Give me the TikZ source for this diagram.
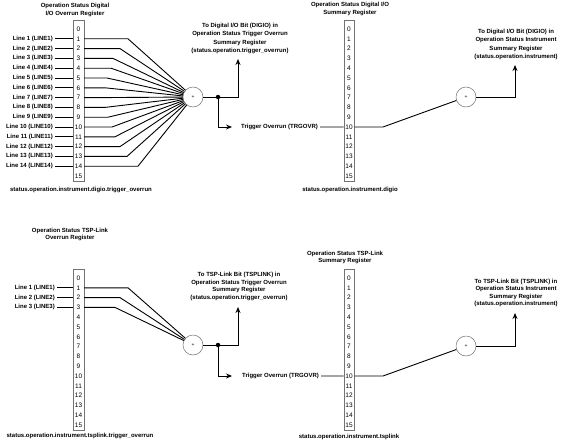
\documentclass[tikz,border=0pt]{standalone}
\usepackage{fontspec}
\setmainfont{Liberation Sans}
\usetikzlibrary{arrows.meta}
\begin{document}
\begin{tikzpicture}[x=1pt,y=-1pt,
  lbl/.style={font=\fontsize{6}{8.2}\selectfont\bfseries, inner sep=0pt},
  lbls/.style={font=\fontsize{6}{7.4}\selectfont\bfseries, inner sep=0pt},
  num/.style={font=\fontsize{6.5}{7}\selectfont, inner sep=0pt},
  reg/.style={draw=black!55, line width=0.5pt, minimum width=10.5pt, minimum height=161pt, inner sep=0pt},
  orc/.style={circle, draw=black!55, line width=0.5pt, minimum size=20pt, inner sep=0pt, font=\fontsize{5}{5}\selectfont},
  wire/.style={line width=0.9pt},
  arr/.style={wire, -{Stealth[length=6pt,width=5pt]}},
  jdot/.style={circle, fill=black, minimum size=4.5pt, inner sep=0pt}]
\useasboundingbox (0,0) rectangle (561,444);

% ---------------- registers ----------------
\node[reg] (R1) at (78.5,101) {};
\node[reg] (R2) at (349,101) {};
\node[reg] (R3) at (78.5,349.5) {};
\node[reg] (R4) at (349,349.5) {};
\foreach \i in {0,...,15}{
  \node[num] (R1n\i) at (78.5,29+9.8*\i) {\i};
  \node[num] (R2n\i) at (349,29+9.8*\i) {\i};
  \node[num] (R3n\i) at (78.5,278+9.8*\i) {\i};
  \node[num] (R4n\i) at (349,278+9.8*\i) {\i};
}

% titles
\node[lbl, align=center] (Ti1) at (75,10) {Operation Status Digital\\I/O Overrun Register};
\node[lbl, align=center] (Ti2) at (350,9) {Operation Status Digital I/O\\Summary Register};
\node[lbls, align=center] (Ti3) at (70,234.5) {Operation Status TSP-Link\\Overrun Register};
\node[lbls, align=center] (Ti4) at (345,257.5) {Operation Status TSP-Link\\Summary Register};

% bottom labels
\node[lbl] (B1) at (81,190) {status.operation.instrument.digio.trigger\_overrun};
\node[lbl] (B2) at (350,190) {status.operation.instrument.digio};
\node[lbl] (B3) at (80,436) {status.operation.instrument.tsplink.trigger\_overrun};
\node[lbl] (B4) at (349,437) {status.operation.instrument.tsplink};

% ---------------- OR gates and junctions ----------------
\node[orc] (C1) at (193,97) {+};
\node[orc] (C2) at (466,97) {+};
\node[orc] (C3) at (193,345) {+};
\node[orc] (C4) at (466,346) {+};
\node[jdot] (D1) at (218,97) {};
\node[jdot] (D3) at (218,345) {};

% ---------------- top input lines ----------------
\foreach \i/\hx in {1/128,2/120,3/113,4/111,5/107,6/105,7/104,8/105,9/108,10/112,11/115,12/120,13/127,14/138}{
  \node[lbl, anchor=east] (L\i) at (53,29+9.8*\i) {Line \i\ (LINE\i)};
  \draw[wire] ([xshift=2pt]L\i.east) -- (R1.west |- R1n\i);
  \draw[wire] (R1.east |- R1n\i) -- (\hx,29+9.8*\i) -- (C1);
}

% ---------------- bottom input lines ----------------
\foreach \i/\hx in {1/128,2/120,3/115}{
  \node[lbl, anchor=east] (M\i) at (55,278+9.8*\i) {Line \i\ (LINE\i)};
  \draw[wire] ([xshift=2pt]M\i.east) -- (R3.west |- R3n\i);
  \draw[wire] (R3.east |- R3n\i) -- (\hx,278+9.8*\i) -- (C3);
}

% ---------------- top outputs ----------------
\node[lbl, align=center] (T1) at (240,38.5) {To Digital I/O Bit (DIGIO) in\\Operation Status Trigger Overrun\\Summary Register\\(status.operation.trigger\_overrun)};
\coordinate (U1) at (238,97);
\coordinate (U1t) at (238,59);
\draw[wire] (C1) -- (D1.center);
\draw[arr] (D1.center) -- (U1) -- (U1t);
\node[lbl, anchor=west] (G1) at (241,127) {Trigger Overrun (TRGOVR)};
\coordinate (V1) at (218,127);
\draw[arr] (D1.center) -- (V1) -- ([xshift=-9pt]G1.west);
\draw[wire] ([xshift=2pt]G1.east) -- (R2.west |- R2n10);
\coordinate (K2) at (383,127);
\draw[wire] (R2.east |- R2n10) -- (K2) -- (C2);
\node[lbl, align=center] (T2) at (516,44.5) {To Digital I/O Bit (DIGIO) in\\Operation Status Instrument\\Summary Register\\(status.operation.instrument)};
\coordinate (U2) at (515,97);
\coordinate (U2t) at (515,65);
\draw[arr] (C2) -- (U2) -- (U2t);

% ---------------- bottom outputs ----------------
\node[lbls, align=center] (T3) at (239,286.5) {To TSP-Link Bit (TSPLINK) in\\Operation Status Trigger Overrun\\Summary Register\\(status.operation.trigger\_overrun)};
\coordinate (U3) at (238,345);
\coordinate (U3t) at (238,307);
\draw[wire] (C3) -- (D3.center);
\draw[arr] (D3.center) -- (U3) -- (U3t);
\node[lbl, anchor=west] (G3) at (242,376) {Trigger Overrun (TRGOVR)};
\coordinate (V3) at (218,376);
\draw[arr] (D3.center) -- (V3) -- ([xshift=-10pt]G3.west);
\draw[wire] ([xshift=2pt]G3.east) -- (R4.west |- R4n10);
\coordinate (K4) at (383,376);
\draw[wire] (R4.east |- R4n10) -- (K4) -- (C4);
\node[lbls, align=center] (T4) at (516,293) {To TSP-Link Bit (TSPLINK) in\\Operation Status Instrument\\Summary Register\\(status.operation.instrument)};
\coordinate (U4) at (515,346);
\coordinate (U4t) at (515,313);
\draw[arr] (C4) -- (U4) -- (U4t);
\end{tikzpicture}
\end{document}
